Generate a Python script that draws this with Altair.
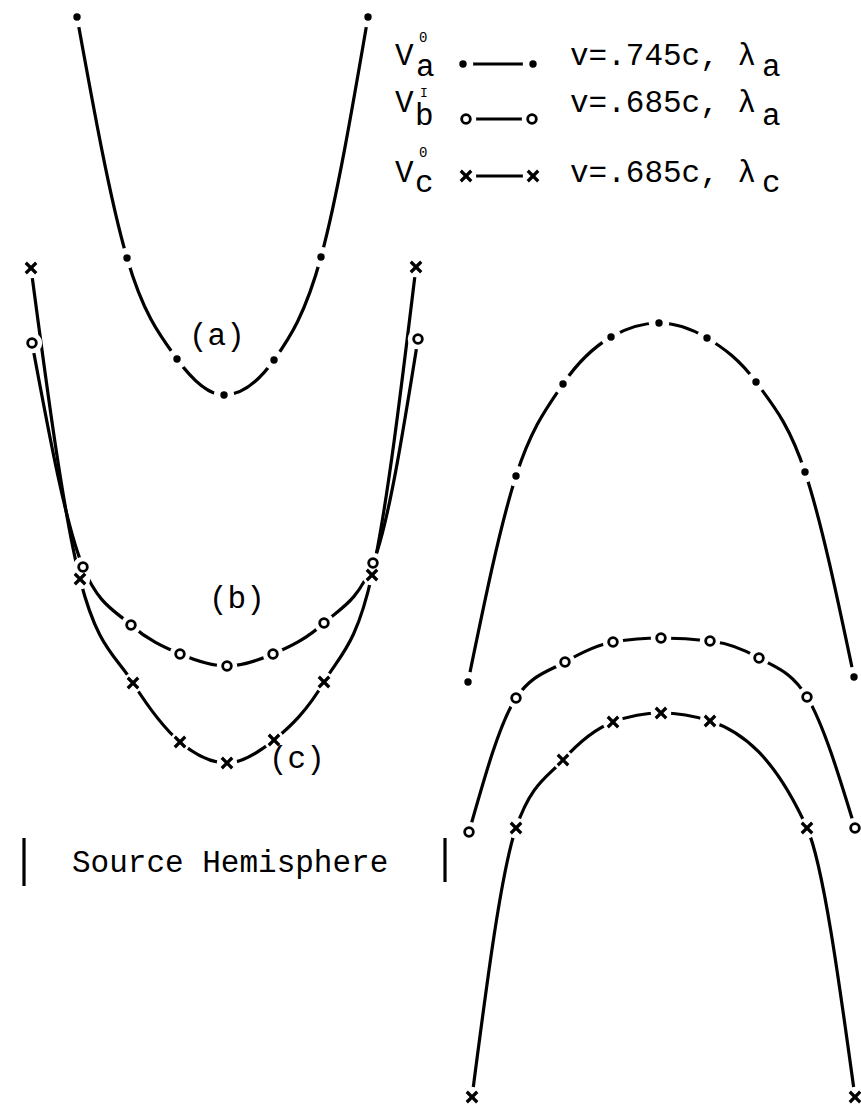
import altair as alt
import pandas as pd

W, H = 861, 1106
FONT = "Liberation Mono"

# ---- curve (a): v = .745c, lambda_a  (dot markers) ----
a_left_x = [77, 127, 177, 224, 274, 321, 368]
a_left_y = [17, 258, 359, 395, 360, 257, 17]
a_right_x = [468, 516, 563, 611, 659, 707, 756, 805, 854]
a_right_y = [682, 476, 384, 337, 323, 338, 382, 472, 677]

# ---- curve (b): v = .685c, lambda_a  (open circles) ----
b_left_x = [32, 83, 131, 180, 227, 273, 324, 373, 418]
b_left_y = [343, 567, 625, 654, 666, 654, 623, 563, 339]
b_right_x = [469, 516, 565, 613, 661, 710, 759, 807, 855]
b_right_y = [832, 698, 662, 642, 638, 641, 658, 697, 828]

# ---- curve (c): v = .685c, lambda_c  (crosses) ----
c_left_x = [31, 80, 133, 180, 227, 274, 324, 372, 416]
c_left_y = [268, 579, 683, 742, 763, 740, 682, 575, 267]
c_right_x = [472, 516, 563, 613, 661, 710, 807, 855]
c_right_y = [1097, 828, 760, 722, 713, 721, 828, 1097]

# ---- legend samples ----
key_a_x, key_a_y = [463, 533], [64, 64]
key_b_x, key_b_y = [466, 532], [119, 119]
key_c_x, key_c_y = [466, 533], [176, 176]

# ---- source hemisphere bracket ----
bar_x = [24, 445]
bar_y1 = [838, 838]
bar_y2 = [886, 882]

series = [
    ("a_left", "dot", a_left_x, a_left_y),
    ("a_right", "dot", a_right_x, a_right_y),
    ("b_left", "ring", b_left_x, b_left_y),
    ("b_right", "ring", b_right_x, b_right_y),
    ("c_left", "cross", c_left_x, c_left_y),
    ("c_right", "cross", c_right_x, c_right_y),
    ("key_a", "dot", key_a_x, key_a_y),
    ("key_b", "ring", key_b_x, key_b_y),
    ("key_c", "cross", key_c_x, key_c_y),
]

rows = []
for name, marker, xs, ys in series:
    for i, (x, y) in enumerate(zip(xs, ys)):
        rows.append({"curve": name, "marker": marker, "i": i, "x": x, "y": y})
pts = pd.DataFrame(rows)

# text pieces: (text, x, baseline y, size)
labels = pd.DataFrame([
    ("V", 395, 65, 31), ("a", 416, 76, 31), ("0", 419, 42, 14),
    ("V", 395, 112, 31), ("b", 415, 125, 31), ("I", 420, 97, 13),
    ("V", 395, 182, 31), ("c", 415, 192, 31), ("0", 419, 157, 14),
    ("v=.745c, λ", 570, 65, 31), ("a", 762, 76, 31),
    ("v=.685c, λ", 570, 112, 31), ("a", 762, 125, 31),
    ("v=.685c, λ", 570, 182, 31), ("c", 762, 192, 31),
    ("(a)", 189, 345, 31),
    ("(b)", 209, 608, 31),
    ("(c)", 269, 768, 31),
    ("Source Hemisphere", 72, 872, 31),
], columns=["t", "x", "y", "s"])

bars = pd.DataFrame({"x": bar_x, "y": bar_y1, "y2": bar_y2})

xs = alt.X("x:Q", scale=alt.Scale(domain=[0, W], nice=False, zero=False), axis=None)
ys = alt.Y("y:Q", scale=alt.Scale(domain=[0, H], nice=False, zero=False, reverse=True), axis=None)

base = alt.Chart(pts).encode(x=xs, y=ys)

# continuous curves
lines = base.mark_line(color="black", strokeWidth=3.2, interpolate="monotone").encode(
    detail="curve:N", order="i:Q"
)
# white discs that open a small gap in the curve around every marker
masks = base.mark_circle(size=420, opacity=1, strokeWidth=0).encode(
    color=alt.value("white"))
dots = base.transform_filter(alt.datum.marker == "dot").mark_circle(
    size=55, opacity=1).encode(color=alt.value("black"))
rings = base.transform_filter(alt.datum.marker == "ring").mark_point(
    filled=False, shape="circle", size=75, strokeWidth=2.8, opacity=1
).encode(color=alt.value("black"))
crosses = base.transform_filter(alt.datum.marker == "cross").mark_point(
    filled=False, shape="M-1,-1L1,1M1,-1L-1,1", size=110,
    strokeWidth=3.2, opacity=1
).encode(color=alt.value("black"))

bracket = alt.Chart(bars).mark_rule(color="black", strokeWidth=3.2).encode(
    x=xs, y=ys, y2="y2:Q")

text = alt.Chart(labels).mark_text(
    align="left", baseline="alphabetic", font=FONT, color="black"
).encode(x=xs, y=ys, text="t:N", size=alt.Size("s:Q", scale=None, legend=None))

chart = alt.layer(lines, masks, dots, rings, crosses, bracket, text).properties(
    width=W, height=H, padding=0, autosize=alt.AutoSizeParams(type="none"),
    background="white",
).configure_view(stroke=None)

chart.save("out.html", embed_options={"renderer": "svg", "actions": False})
